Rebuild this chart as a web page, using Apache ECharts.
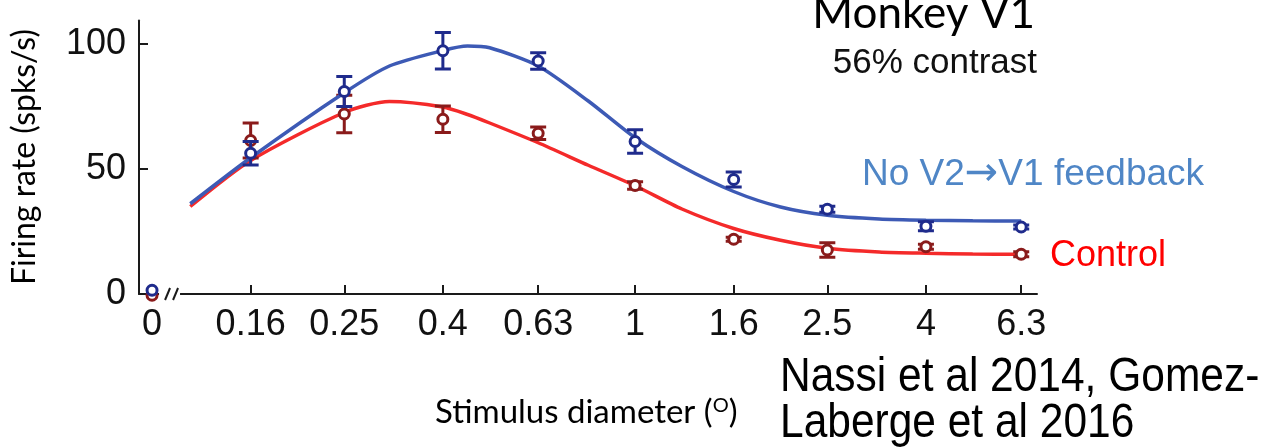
<!DOCTYPE html>
<html>
<head>
<meta charset="utf-8">
<script src="https://cdn.jsdelivr.net/npm/echarts@6/dist/echarts.min.js"></script>
<style>
html,body{margin:0;padding:0;background:#fff;}
#chart{width:1268px;height:448px;}
</style>
</head>
<body>
<div id="chart"></div>
<script>
// ---- Data ----
const xTickLabels = ['0', '0.16', '0.25', '0.4', '0.63', '1', '1.6', '2.5', '4', '6.3'];
const diameters = [0, 0.16, 0.25, 0.4, 0.63, 1, 1.6, 2.5, 4, 6.3];
const yTicks = [0, 50, 100];

const noFeedbackMean = [1.5, 56.3, 81.0, 97.3, 93.2, 61.0, 45.8, 33.9, 27.1, 26.8];
const noFeedbackErr  = [0, 4.7, 6.0, 7.3, 3.3, 4.7, 3.0, 1.2, 1.8, 0.8];
const controlMean    = [-0.5, 61.4, 72.0, 69.9, 64.3, 43.4, 21.9, 17.6, 18.9, 15.9];
const controlErr     = [0, 7.0, 7.5, 5.3, 2.5, 1.5, 0.8, 2.9, 1.0, 1.0];

const fitDiameters  = [0.12, 0.16, 0.25, 0.31, 0.4, 0.45, 0.5, 0.63, 0.8, 1, 1.25, 1.6, 2, 2.5, 3.2, 4, 5, 6.3];
const noFeedbackFit = [36.1, 54.5, 80.5, 91.2, 97.4, 99.2, 98.5, 91.2, 77.2, 62.5, 51.0, 41.0, 34.8, 31.5, 30.0, 29.5, 29.3, 29.2];
const controlFit    = [35.0, 53.4, 72.6, 77.0, 74.8, 71.8, 68.4, 60.5, 51.5, 43.3, 34.0, 26.2, 21.5, 18.3, 16.8, 16.3, 16.0, 15.9];

// ---- Helpers ----
// log-scale position; the "0" condition is drawn one step left of 0.16 (at 0.1), after an axis break
function pos(d) { return d === 0 ? -1 : Math.log10(d); }

const BLUE_MK = '#1f2b8c', RED_MK = '#8a1b1b';
const BLUE_LN = '#3d5ab5', RED_LN = '#f42a2a';
const tickPos = diameters.map(pos);

function errSeries(means, errs, color, z) {
  const data = [];
  diameters.forEach((d, i) => { if (errs[i] > 0) data.push([pos(d), means[i] - errs[i], means[i] + errs[i]]); });
  return {
    type: 'custom', z: z, silent: true, animation: false,
    encode: { x: 0, y: [1, 2] },
    data: data,
    renderItem: function (params, api) {
      const x = api.value(0);
      const lo = api.coord([x, api.value(1)]);
      const hi = api.coord([x, api.value(2)]);
      const hw = 8;
      const st = { stroke: color, lineWidth: 3 };
      return { type: 'group', children: [
        { type: 'line', shape: { x1: lo[0], y1: lo[1], x2: hi[0], y2: hi[1] }, style: st },
        { type: 'line', shape: { x1: lo[0] - hw, y1: lo[1], x2: lo[0] + hw, y2: lo[1] }, style: st },
        { type: 'line', shape: { x1: hi[0] - hw, y1: hi[1], x2: hi[0] + hw, y2: hi[1] }, style: st }
      ]};
    }
  };
}
function fitSeries(vals, color, z) {
  return {
    type: 'line', z: z, silent: true, animation: false, showSymbol: false, smooth: 0.25,
    lineStyle: { color: color, width: 3.5 },
    data: fitDiameters.map((d, i) => [pos(d), vals[i]])
  };
}
function markerSeries(vals, color, z) {
  return {
    type: 'scatter', z: z, silent: true, animation: false, clip: false, symbol: 'circle', symbolSize: 10,
    itemStyle: { color: '#ffffff', borderColor: color, borderWidth: 3, opacity: 1 },
    data: diameters.map((d, i) => [pos(d), vals[i]])
  };
}

const chart = echarts.init(document.getElementById('chart'), null, { renderer: 'canvas' });
const option = {
  animation: false,
  backgroundColor: '#ffffff',
  grid: { left: 139, right: 231, top: 20.5, bottom: 154, containLabel: false },
  xAxis: {
    type: 'value', min: -1.027, max: 0.832,
    axisLine: { show: true, onZero: false, lineStyle: { color: '#1a1a1a', width: 2 } },
    axisTick: { show: true, inside: true, length: 9, lineStyle: { color: '#1a1a1a', width: 2 },
                customValues: tickPos.slice(1) },
    axisLabel: {
      show: true, margin: 13, color: '#111', fontSize: 36, fontFamily: 'Liberation Sans, Arial, sans-serif',
      customValues: tickPos,
      formatter: function (v) {
        for (let i = 0; i < tickPos.length; i++) if (Math.abs(tickPos[i] - v) < 1e-6) return xTickLabels[i];
        return '';
      }
    },
    splitLine: { show: false }
  },
  yAxis: {
    type: 'value', min: 0, max: 109.4,
    axisLine: { show: true, onZero: false, lineStyle: { color: '#1a1a1a', width: 2 } },
    axisTick: { show: true, inside: true, length: 9, lineStyle: { color: '#1a1a1a', width: 2 }, customValues: yTicks },
    axisLabel: { show: true, margin: 13, color: '#111', fontSize: 36, fontFamily: 'Liberation Sans, Arial, sans-serif',
                 customValues: yTicks },
    splitLine: { show: false }
  },
  series: [
    fitSeries(controlFit, RED_LN, 2),
    errSeries(controlMean, controlErr, RED_MK, 3),
    markerSeries(controlMean, RED_MK, 4),
    fitSeries(noFeedbackFit, BLUE_LN, 5),
    errSeries(noFeedbackMean, noFeedbackErr, BLUE_MK, 6),
    markerSeries(noFeedbackMean, BLUE_MK, 7)
  ]
};
chart.setOption(option);

// axis break "//" and annotations
const x0 = chart.convertToPixel({ xAxisIndex: 0 }, pos(0));
const yb = chart.convertToPixel({ yAxisIndex: 0 }, 0);
const graphics = [
  { type: 'rect', z: 1, silent: true, shape: { x: x0 + 7, y: yb - 4, width: 21, height: 8 }, style: { fill: '#ffffff' } },
  { type: 'line', z: 10, silent: true, shape: { x1: x0 + 13, y1: yb + 6, x2: x0 + 18, y2: yb - 6 }, style: { stroke: '#1a1a1a', lineWidth: 2 } },
  { type: 'line', z: 10, silent: true, shape: { x1: x0 + 21, y1: yb + 6, x2: x0 + 26, y2: yb - 6 }, style: { stroke: '#1a1a1a', lineWidth: 2 } },
  { type: 'text', silent: true, style: { text: 'Monkey V1', x: 1035, y: 14, align: 'right', verticalAlign: 'middle',
      font: '44px Lato, sans-serif', fill: '#000' } },
  { type: 'text', silent: true, style: { text: '56% contrast', x: 1037, y: 63, align: 'right', verticalAlign: 'middle',
      font: '35px "Liberation Sans", Arial, sans-serif', fill: '#111' } },
  { type: 'text', silent: true, style: { text: 'No V2{a|\u2192}V1 feedback', x: 862, y: 175, align: 'left', verticalAlign: 'middle',
      font: '37px "Liberation Sans", Arial, sans-serif', fill: '#4f86c6',
      rich: { a: { fontSize: 40, fontFamily: 'DejaVu Sans', fill: '#4f86c6' } } } },
  { type: 'text', silent: true, style: { text: 'Control', x: 1050, y: 256, align: 'left', verticalAlign: 'middle',
      font: '36px "Liberation Sans", Arial, sans-serif', fill: '#ff0000' } },
  { type: 'text', silent: true, rotation: Math.PI / 2, x: 25, y: 157,
    style: { text: 'Firing rate (spks/s)', x: 0, y: 0, align: 'center', verticalAlign: 'middle',
      font: '32px Lato, sans-serif', fill: '#000' } },
  { type: 'text', silent: true,
    style: { text: 'Stimulus diameter ({s|O})', x: 435, y: 412, align: 'left', verticalAlign: 'middle',
      font: '33px Lato, sans-serif', fill: '#000',
      rich: { s: { fontSize: 20, fontFamily: 'Lato, sans-serif', verticalAlign: 'top', fill: '#000', padding: [0, 0, 10, 0] } } } },
  { type: 'text', silent: true, x: 780, y: 378, scaleX: 0.885,
    style: { text: 'Nassi et al 2014, Gomez-', x: 0, y: 0, align: 'left', verticalAlign: 'middle',
      font: '48px "Liberation Sans", Arial, sans-serif', fill: '#000' } },
  { type: 'text', silent: true, x: 780, y: 424, scaleX: 0.885,
    style: { text: 'Laberge et al 2016', x: 0, y: 0, align: 'left', verticalAlign: 'middle',
      font: '48px "Liberation Sans", Arial, sans-serif', fill: '#000' } }
];
chart.setOption({ graphic: graphics });
</script>
</body>
</html>
